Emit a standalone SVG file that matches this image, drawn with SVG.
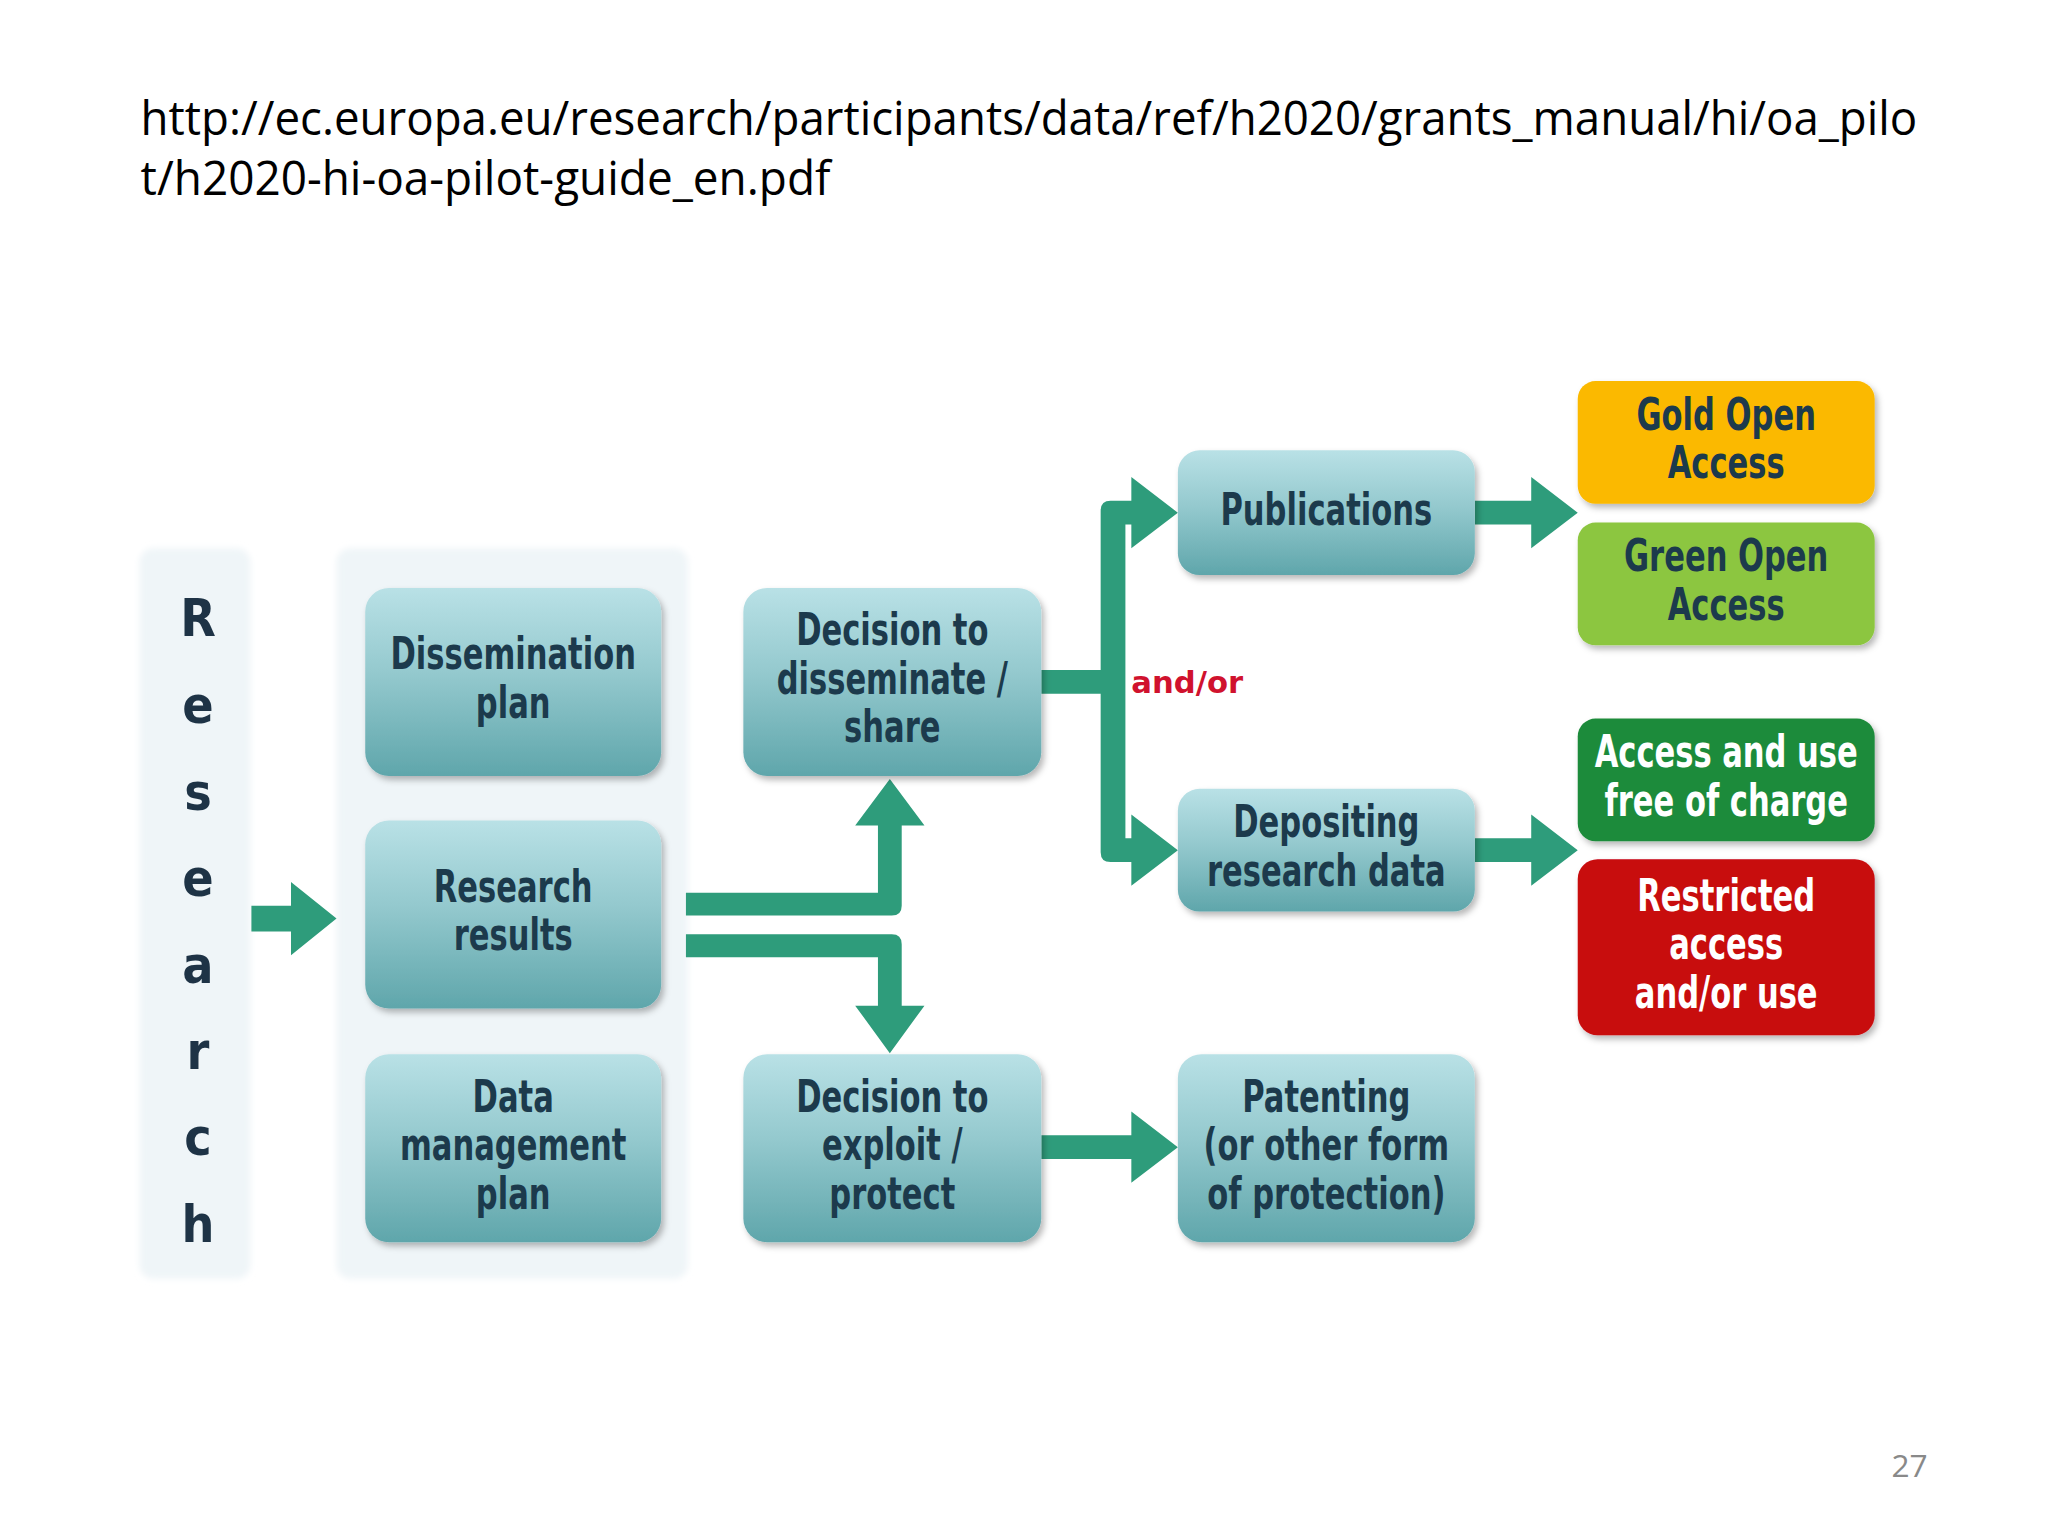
<svg xmlns="http://www.w3.org/2000/svg" width="2048" height="1536" viewBox="0 0 2048 1536">
<defs>
<linearGradient id="tealGrad" x1="0" y1="0" x2="0" y2="1">
<stop offset="0" stop-color="#b9e1e6"/>
<stop offset="0.45" stop-color="#94c9ce"/>
<stop offset="1" stop-color="#5fa6ab"/>
</linearGradient>
<filter id="shadow" x="-10%" y="-10%" width="125%" height="130%">
<feDropShadow dx="3" dy="4" stdDeviation="3" flood-color="#000000" flood-opacity="0.28"/>
</filter>
<filter id="soft" x="-10%" y="-5%" width="120%" height="110%">
<feGaussianBlur stdDeviation="3"/>
</filter>
</defs>
<style>
.url{font-family:"Open Sans","Liberation Sans",sans-serif;font-size:48px;fill:#000000}
.pg{font-family:"Open Sans","Liberation Sans",sans-serif;font-size:32px;fill:#898989}
.box{fill:url(#tealGrad);filter:url(#shadow)}
.lbl{font-family:"DejaVu Sans Condensed","DejaVu Sans",sans-serif;font-weight:bold;font-size:44px;fill:#1c3a4c;text-anchor:middle}
.wht{fill:#ffffff}
.vert{font-family:"DejaVu Sans Condensed","DejaVu Sans",sans-serif;font-weight:bold;font-size:52px;fill:#1e3346;text-anchor:middle}
.arrow{fill:#2e9c7b}
.andor{font-family:"DejaVu Sans","Liberation Sans",sans-serif;font-weight:bold;font-size:31px;fill:#d0122e}
.bg{fill:#eff5f8;filter:url(#soft)}
</style>
<rect x="0" y="0" width="2048" height="1536" fill="#ffffff"/>
<g transform="scale(0.9898)">
<g id="title">
<text class="url" x="142" y="136" textLength="1795" lengthAdjust="spacingAndGlyphs">http://ec.europa.eu/research/participants/data/ref/h2020/grants_manual/hi/oa_pilo</text>
<text class="url" x="142" y="197" textLength="697" lengthAdjust="spacingAndGlyphs">t/h2020-hi-oa-pilot-guide_en.pdf</text>
</g>
<text class="pg" x="1911" y="1492">27</text>
<g id="research-column">
<rect class="bg" x="141" y="554" width="112" height="738" rx="14"/>
<text class="vert" x="200" y="643">R</text>
<text class="vert" x="200" y="730">e</text>
<text class="vert" x="200" y="818">s</text>
<text class="vert" x="200" y="905">e</text>
<text class="vert" x="200" y="993">a</text>
<text class="vert" x="200" y="1080">r</text>
<text class="vert" x="200" y="1167">c</text>
<text class="vert" x="200" y="1255">h</text>
</g>
<g id="plans-panel">
<rect class="bg" x="340" y="554" width="355" height="738" rx="14"/>
</g>
<g id="connectors">
<path class="arrow" d="M254,915 H294 V891 L340,928 L294,965 V941 H254 Z"/>
<path class="arrow" d="M693,902 H887 V834 H864 L899,787 L934,834 H911 V915 Q911,925 901,925 H693 Z"/>
<path class="arrow" d="M693,944 H901 Q911,944 911,954 V1016 H934 L899,1064 L864,1016 H887 V967 H693 Z"/>
<path class="arrow" d="M1052,677 H1112 V516 Q1112,506 1122,506 H1143 V482 L1190,518 L1143,554 V530 H1137 V847 H1143 V823 L1190,859 L1143,895 V871 H1122 Q1112,871 1112,861 V701 H1052 Z"/>
<path class="arrow" d="M1490,506 H1547 V482 L1594,518 L1547,554 V530 H1490 Z"/>
<path class="arrow" d="M1490,847 H1547 V823 L1594,859 L1547,895 V871 H1490 Z"/>
<path class="arrow" d="M1052,1147 H1143 V1123 L1190,1159 L1143,1195 V1171 H1052 Z"/>
<text class="andor" x="1143" y="700">and/or</text>
</g>
<g id="dissemination-plan">
<rect class="box" x="369" y="594" width="299" height="190" rx="24"/>
<g transform="translate(518.5,-4) scale(0.78,1) translate(-518.5,0)">
<text class="lbl" x="518.5" y="680">Dissemination</text>
<text class="lbl" x="518.5" y="729">plan</text>
</g>
</g>
<g id="research-results">
<rect class="box" x="369" y="829" width="299" height="190" rx="24"/>
<g transform="translate(518.5,-4) scale(0.78,1) translate(-518.5,0)">
<text class="lbl" x="518.5" y="915">Research</text>
<text class="lbl" x="518.5" y="964">results</text>
</g>
</g>
<g id="data-management-plan">
<rect class="box" x="369" y="1065" width="299" height="190" rx="24"/>
<g transform="translate(518.5,-4) scale(0.78,1) translate(-518.5,0)">
<text class="lbl" x="518.5" y="1127">Data</text>
<text class="lbl" x="518.5" y="1176">management</text>
<text class="lbl" x="518.5" y="1225">plan</text>
</g>
</g>
<g id="decision-disseminate">
<rect class="box" x="751" y="594" width="301" height="190" rx="24"/>
<g transform="translate(901.5,-4) scale(0.78,1) translate(-901.5,0)">
<text class="lbl" x="901.5" y="656">Decision to</text>
<text class="lbl" x="901.5" y="705">disseminate /</text>
<text class="lbl" x="901.5" y="754">share</text>
</g>
</g>
<g id="decision-exploit">
<rect class="box" x="751" y="1065" width="301" height="190" rx="24"/>
<g transform="translate(901.5,-4) scale(0.78,1) translate(-901.5,0)">
<text class="lbl" x="901.5" y="1127">Decision to</text>
<text class="lbl" x="901.5" y="1176">exploit /</text>
<text class="lbl" x="901.5" y="1225">protect</text>
</g>
</g>
<g id="publications">
<rect class="box" x="1190" y="455" width="300" height="126" rx="22"/>
<g transform="translate(1340,-4) scale(0.78,1) translate(-1340,0)">
<text class="lbl" x="1340" y="534">Publications</text>
</g>
</g>
<g id="depositing">
<rect class="box" x="1190" y="797" width="300" height="124" rx="22"/>
<g transform="translate(1340,-4) scale(0.78,1) translate(-1340,0)">
<text class="lbl" x="1340" y="850">Depositing</text>
<text class="lbl" x="1340" y="899">research data</text>
</g>
</g>
<g id="patenting">
<rect class="box" x="1190" y="1065" width="300" height="190" rx="24"/>
<g transform="translate(1340,-4) scale(0.78,1) translate(-1340,0)">
<text class="lbl" x="1340" y="1127">Patenting</text>
<text class="lbl" x="1340" y="1176">(or other form</text>
<text class="lbl" x="1340" y="1225">of protection)</text>
</g>
</g>
<g id="gold-oa">
<rect x="1594" y="385" width="300" height="124" rx="18" fill="#fbb900" filter="url(#shadow)"/>
<g transform="translate(1744,-4) scale(0.78,1) translate(-1744,0)">
<text class="lbl" x="1744" y="438">Gold Open</text>
<text class="lbl" x="1744" y="487">Access</text>
</g>
</g>
<g id="green-oa">
<rect x="1594" y="528" width="300" height="124" rx="18" fill="#8cc63f" filter="url(#shadow)"/>
<g transform="translate(1744,-4) scale(0.78,1) translate(-1744,0)">
<text class="lbl" x="1744" y="581">Green Open</text>
<text class="lbl" x="1744" y="630">Access</text>
</g>
</g>
<g id="access-free">
<rect x="1594" y="726" width="300" height="124" rx="18" fill="#1e8b3b" filter="url(#shadow)"/>
<g transform="translate(1744,-4) scale(0.78,1) translate(-1744,0)">
<text class="lbl wht" x="1744" y="779">Access and use</text>
<text class="lbl wht" x="1744" y="828">free of charge</text>
</g>
</g>
<g id="restricted">
<rect x="1594" y="868" width="300" height="178" rx="20" fill="#c8090f" filter="url(#shadow)"/>
<g transform="translate(1744,-4) scale(0.78,1) translate(-1744,0)">
<text class="lbl wht" x="1744" y="924">Restricted</text>
<text class="lbl wht" x="1744" y="973">access</text>
<text class="lbl wht" x="1744" y="1022">and/or use</text>
</g>
</g>
</g>
</svg>
